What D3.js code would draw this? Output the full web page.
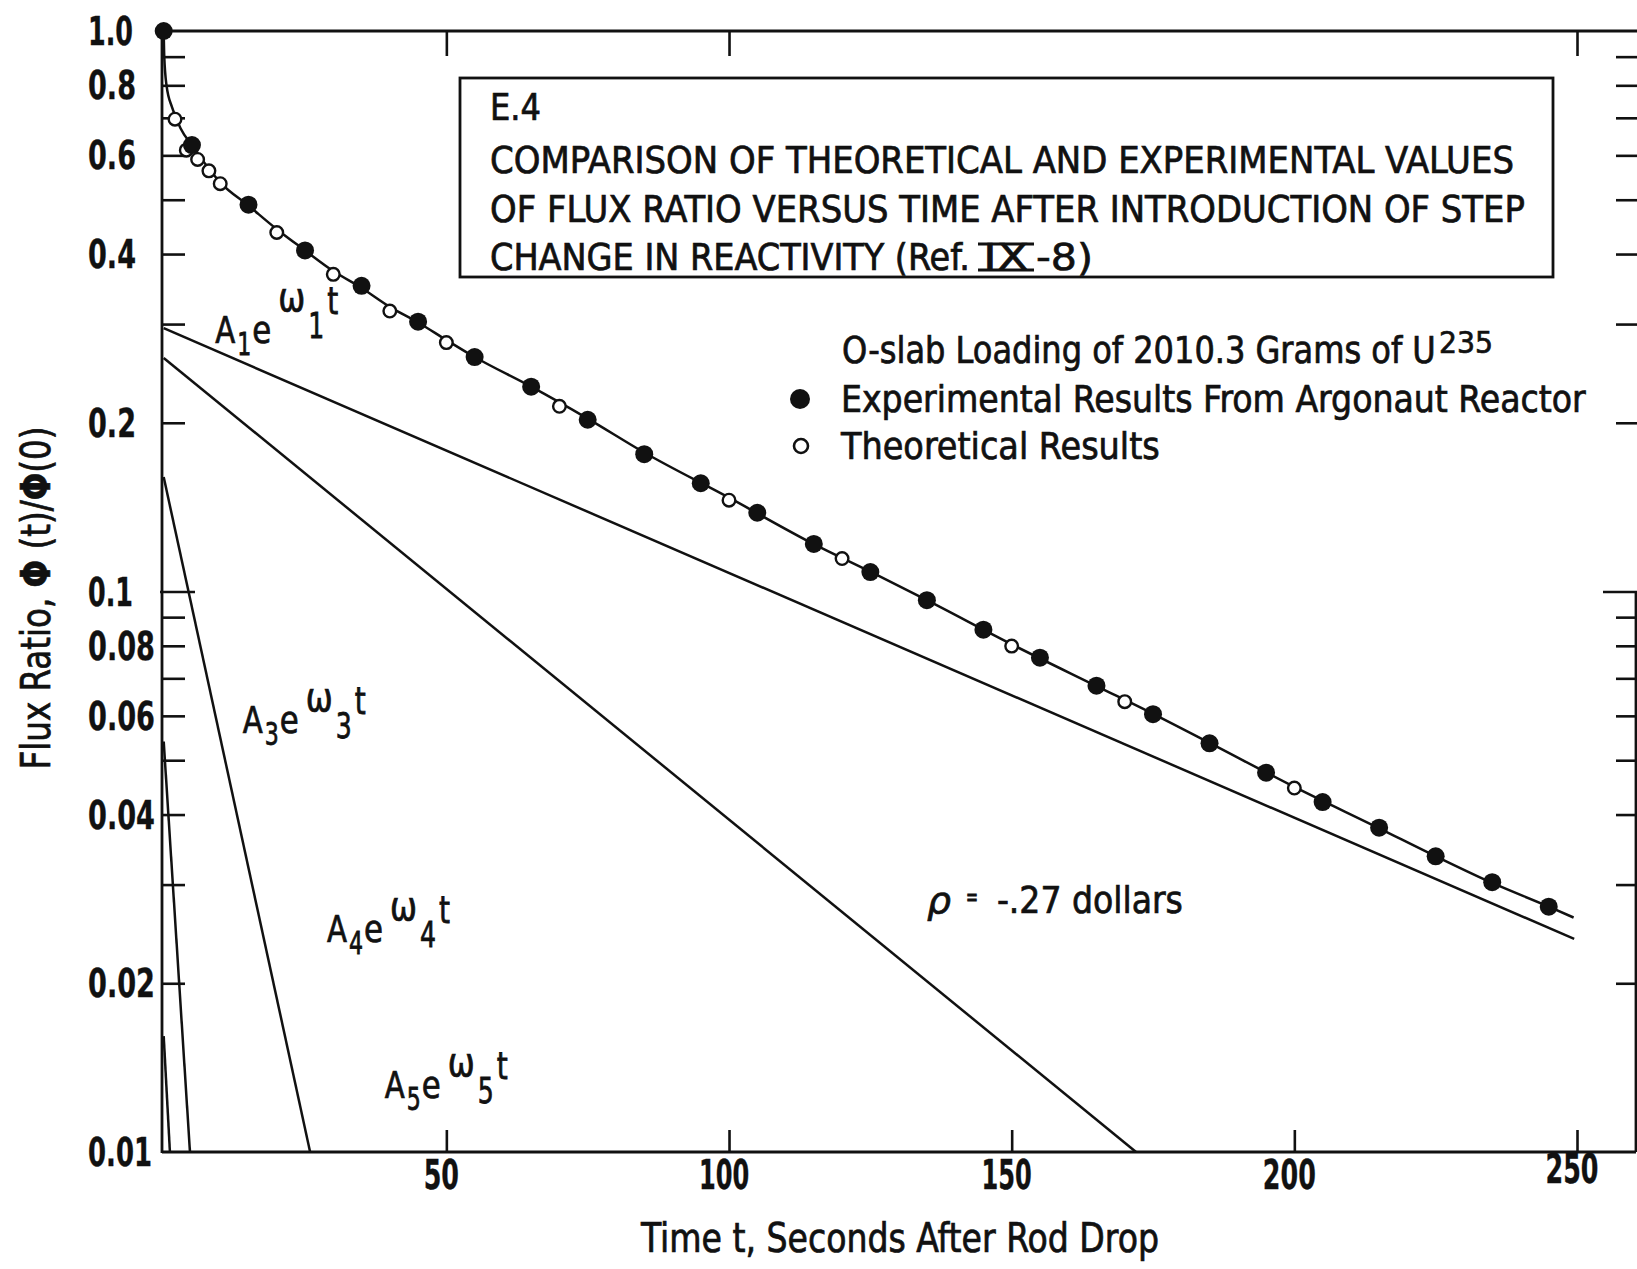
<!DOCTYPE html>
<html>
<head>
<meta charset="utf-8">
<script src="https://cdn.jsdelivr.net/npm/d3@7"></script>
<style>
  html, body { margin: 0; padding: 0; background: #fff; }
  svg { display: block; }
  text { font-family: "DejaVu Sans Condensed", "Liberation Sans Narrow", "DejaVu Sans", sans-serif; fill: #111; stroke: #111; stroke-width: 0.7px; vector-effect: non-scaling-stroke; }
  text.num { stroke-width: 0.3px; }
</style>
</head>
<body>
<svg id="chart" width="1637" height="1269"></svg>
<script>
// Measured flux ratio, Argonaut reactor (filled points)
const expTimes  = [0, 5, 15, 25, 35, 45, 55, 65, 75, 85, 95, 105, 115, 125, 135, 145, 155, 165, 175, 185, 195, 205, 215, 225, 235, 245];
const expValues = [1.0, 0.626, 0.490, 0.406, 0.351, 0.303, 0.262, 0.232, 0.2025, 0.1758, 0.156, 0.1382, 0.1216, 0.1083, 0.0965, 0.0855, 0.0762, 0.0679, 0.0604, 0.0536, 0.0475, 0.0421, 0.0379, 0.0337, 0.0303, 0.0274];

// Theoretical flux ratio (open points)
const theoTimes  = [2, 4, 6, 8, 10, 20, 30, 40, 50, 70, 100, 120, 150, 170, 200];
const theoValues = [0.696, 0.613, 0.590, 0.563, 0.534, 0.437, 0.368, 0.3165, 0.278, 0.214, 0.1455, 0.1145, 0.0799, 0.0636, 0.0446];

// Total response curve through the points
const curveTimes  = [0, 0.1, 0.5, 1.5, 3, 5, 8, 10, 15, 20, 25, 30, 35, 40, 45, 50, 55, 65, 75, 85, 100, 115, 125, 135, 150, 165, 175, 185, 200, 215, 225, 235, 245, 249.4];
const curveValues = [1.0, 0.9, 0.8, 0.73, 0.67, 0.625, 0.568, 0.537, 0.488, 0.443, 0.406, 0.373, 0.348, 0.322, 0.302, 0.281, 0.262, 0.232, 0.2035, 0.177, 0.147, 0.1215, 0.1085, 0.0965, 0.0805, 0.0678, 0.0605, 0.0537, 0.0448, 0.0378, 0.0337, 0.0302, 0.0274, 0.0262];

// Exponential components A_i e^(w_i t): start and end points (time, flux ratio)
const componentIds   = ["1", "2", "3", "4", "5"];
const componentStart = [[0, 0.295], [0, 0.261], [0, 0.160], [0, 0.054], [0, 0.0161]];
const componentEnd   = [[249.5, 0.0240], [172, 0.01], [25.9, 0.01], [4.65, 0.01], [1.1, 0.01]];

// Component labels: subscript and anchor (time, flux ratio)
const labelIds    = ["1", "3", "4", "5"];
const labelTimes  = [9.1, 14.0, 28.9, 39.1];
const labelValues = [0.277, 0.0559, 0.0237, 0.01248];

// Axis ticks
const xTickValues   = [50, 100, 150, 200, 250];
const xTopTicks     = [50, 100, 250];
const yLabelValues  = [1.0, 0.8, 0.6, 0.4, 0.2, 0.1, 0.08, 0.06, 0.04, 0.02, 0.01];
const yLabelText    = ["1.0", "0.8", "0.6", "0.4", "0.2", "0.1", "0.08", "0.06", "0.04", "0.02", "0.01"];
const yMinorTicks   = [0.9, 0.8, 0.7, 0.6, 0.5, 0.4, 0.3, 0.2, 0.09, 0.08, 0.07, 0.06, 0.05, 0.04, 0.03, 0.02];
const yMajorTicks   = [0.1];

// Text
const titleLines = ["E.4",
  "COMPARISON OF THEORETICAL AND EXPERIMENTAL VALUES",
  "OF FLUX RATIO VERSUS TIME AFTER INTRODUCTION OF STEP"];
const legendHeader = "O-slab Loading of 2010.3 Grams of U";
const legendItems  = ["Experimental Results From Argonaut Reactor", "Theoretical Results"];

const INK = "#111";
const svg = d3.select("#chart");
svg.append("rect").attr("width", 1637).attr("height", 1269).attr("fill", "#fff");

const x = d3.scaleLinear().domain([-0.3, 250]).range([162, 1577]);
const y = d3.scaleLog().domain([0.01, 1]).range([1152, 31]);
const plotLeft = x.range()[0], plotTop = y(1), plotBottom = y(0.01), plotRight = 1636;

// width of condensed numerals
const numWidth = s => Array.from(s).reduce((w, c) => w + (c === "." ? 10 : c === "1" ? 16 : 19), 0);

// Text squeezed horizontally to a given width (lettering is condensed)
function fitText(parent, str, px, py, size, width, opts = {}) {
  const t = parent.append("text").attr("font-size", size).text(str);
  if (opts.weight) t.attr("font-weight", opts.weight);
  if (opts.style) t.attr("font-style", opts.style);
  if (opts.anchor) t.attr("text-anchor", opts.anchor);
  if (opts.cls) t.attr("class", opts.cls);
  const w0 = t.node().getComputedTextLength() || width;
  const rot = opts.rotate ? ` rotate(${opts.rotate})` : "";
  t.attr("transform", `translate(${px},${py})${rot} scale(${width / w0},1)`);
  return t;
}

// ---- frame ----
const frame = svg.append("g").attr("stroke", INK).attr("stroke-width", 2.8).attr("fill", "none");
frame.append("line").attr("x1", plotLeft).attr("x2", plotLeft).attr("y1", plotTop - 1).attr("y2", plotBottom + 1);
frame.append("line").attr("x1", plotLeft).attr("x2", 1637).attr("y1", plotTop).attr("y2", plotTop);
frame.append("line").attr("x1", plotLeft).attr("x2", plotRight).attr("y1", plotBottom).attr("y2", plotBottom);
frame.append("line").attr("x1", plotRight).attr("x2", plotRight).attr("y1", y(0.1)).attr("y2", plotBottom);

function styleAxis(g) {
  g.select(".domain").remove();
  g.selectAll(".tick line").attr("stroke", INK).attr("stroke-width", 2.6);
  g.selectAll(".tick text").remove();
}

// left inner ticks
svg.append("g").attr("transform", `translate(${plotLeft},0)`)
  .call(d3.axisRight(y).tickValues(yMinorTicks).tickSize(23).tickFormat(""))
  .call(styleAxis);
svg.append("g").attr("transform", `translate(${plotLeft - 2},0)`)
  .call(d3.axisRight(y).tickValues(yMajorTicks).tickSize(35).tickFormat(""))
  .call(styleAxis);
// right ticks
svg.append("g").attr("transform", `translate(1637,0)`)
  .call(d3.axisLeft(y).tickValues(yMinorTicks).tickSize(21).tickFormat(""))
  .call(styleAxis);
svg.append("g").attr("transform", `translate(1637,0)`)
  .call(d3.axisLeft(y).tickValues(yMajorTicks).tickSize(34).tickFormat(""))
  .call(styleAxis);
// bottom and top ticks
svg.append("g").attr("transform", `translate(0,${plotBottom})`)
  .call(d3.axisTop(x).tickValues(xTickValues).tickSize(22).tickFormat(""))
  .call(styleAxis);
svg.append("g").attr("transform", `translate(0,${plotTop})`)
  .call(d3.axisBottom(x).tickValues(xTopTicks).tickSize(25).tickFormat(""))
  .call(styleAxis);

// tick labels
const yLab = svg.append("g");
yLabelValues.forEach((v, i) =>
  fitText(yLab, yLabelText[i], 88, y(v) + 14, 39, numWidth(yLabelText[i]), { weight: "bold", cls: "num" }));

const xLab = svg.append("g");
xTickValues.forEach(t =>
  fitText(xLab, String(t), x(t) - 5, t === 250 ? 1183 : 1189, 40, numWidth(String(t)) * 0.93,
          { weight: "bold", cls: "num", anchor: "middle" }));

// axis titles
fitText(svg, "Time t, Seconds After Rod Drop", 641, 1252, 41, 518);

const yt = svg.append("text").attr("text-anchor", "middle").attr("font-size", 40);
yt.append("tspan").text("Flux Ratio, ");
yt.append("tspan").attr("font-weight", "bold").text("Φ");
yt.append("tspan").text(" (t)/");
yt.append("tspan").attr("font-weight", "bold").text("Φ");
yt.append("tspan").text("(0)");
{
  const w0 = yt.node().getComputedTextLength() || 343;
  yt.attr("transform", `translate(50,598) rotate(-90) scale(${343 / w0},1)`);
}

// ---- exponential components ----
const comps = componentIds.map((id, i) => ({ id, a: componentStart[i], b: componentEnd[i] }));
svg.append("g").selectAll("line").data(comps).join("line")
  .attr("x1", d => x(d.a[0])).attr("y1", d => y(d.a[1]))
  .attr("x2", d => x(d.b[0])).attr("y2", d => y(d.b[1]))
  .attr("stroke", INK).attr("stroke-width", 2.5);

// ---- total response curve ----
const curvePts = curveTimes.map((t, i) => ({ t, v: curveValues[i] }));
svg.append("path").datum(curvePts)
  .attr("d", d3.line().x(d => x(d.t)).y(d => y(d.v)).curve(d3.curveMonotoneX))
  .attr("fill", "none").attr("stroke", INK).attr("stroke-width", 2.5);

// ---- points ----
const theoPts = theoTimes.map((t, i) => ({ t, v: theoValues[i] }));
svg.append("g").selectAll("circle").data(theoPts).join("circle")
  .attr("cx", d => x(d.t)).attr("cy", d => y(d.v)).attr("r", 6.3)
  .attr("fill", "#fff").attr("stroke", INK).attr("stroke-width", 2.4);

const expPts = expTimes.map((t, i) => ({ t, v: expValues[i] }));
svg.append("g").selectAll("circle").data(expPts).join("circle")
  .attr("cx", d => x(d.t)).attr("cy", d => y(d.v)).attr("r", 9)
  .attr("fill", INK);

// ---- component labels  A_i e^(w_i t) ----
labelIds.forEach((id, i) => {
  const x0 = x(labelTimes[i]), y0 = y(labelValues[i]);
  const high = i === 0 ? 10 : 0;          // first label sits with raised exponent
  const g = svg.append("g");
  fitText(g, "A", x0,       y0,             37, 20);
  fitText(g, id,  x0 + 22,  y0 + 12,        32, 14);
  fitText(g, "e", x0 + 37,  y0,             37, 19);
  fitText(g, "ω", x0 + 63,  y0 - 22 - high, 40, 27);
  fitText(g, id,  x0 + 93,  y0 + 5 - high,  36, 16);
  fitText(g, "t", x0 + 112, y0 - 19 - high, 37, 11);
});

// reactivity note
{
  const rx = x(135), ry = y(0.0267);
  const g = svg.append("g");
  fitText(g, "ρ", rx, ry, 38, 24, { style: "italic" });
  fitText(g, "=", rx + 39, ry - 8, 24, 12);
  fitText(g, "-.27 dollars", rx + 70, ry, 38, 186);
}

// ---- title box ----
svg.append("rect").attr("x", 460).attr("y", 78).attr("width", 1093).attr("height", 199)
  .attr("fill", "#fff").attr("stroke", INK).attr("stroke-width", 2.8);
const titleLen = [51, 1024, 1035];
const titleBase = [120, 173, 222];
titleLines.forEach((s, i) => fitText(svg, s, 490, titleBase[i], 38, titleLen[i]));
fitText(svg, "CHANGE IN REACTIVITY (Ref.", 490, 270, 38, 480);
fitText(svg, "IX", 983, 270, 38, 46);
fitText(svg, "-8)", 1036, 270, 38, 57);
svg.append("line").attr("x1", 978).attr("x2", 1034).attr("y1", 244).attr("y2", 244)
  .attr("stroke", INK).attr("stroke-width", 3);
svg.append("line").attr("x1", 978).attr("x2", 1034).attr("y1", 270).attr("y2", 270)
  .attr("stroke", INK).attr("stroke-width", 3);

// ---- legend ----
fitText(svg, legendHeader, 842, 363, 38, 594);
fitText(svg, "235", 1439, 353, 31, 54);
svg.append("circle").attr("cx", 800).attr("cy", 399).attr("r", 10).attr("fill", INK);
svg.append("circle").attr("cx", 801).attr("cy", 446).attr("r", 7).attr("fill", "#fff")
  .attr("stroke", INK).attr("stroke-width", 2.6);
fitText(svg, legendItems[0], 841, 412, 38, 745);
fitText(svg, legendItems[1], 841, 459, 38, 319);
</script>
</body>
</html>
